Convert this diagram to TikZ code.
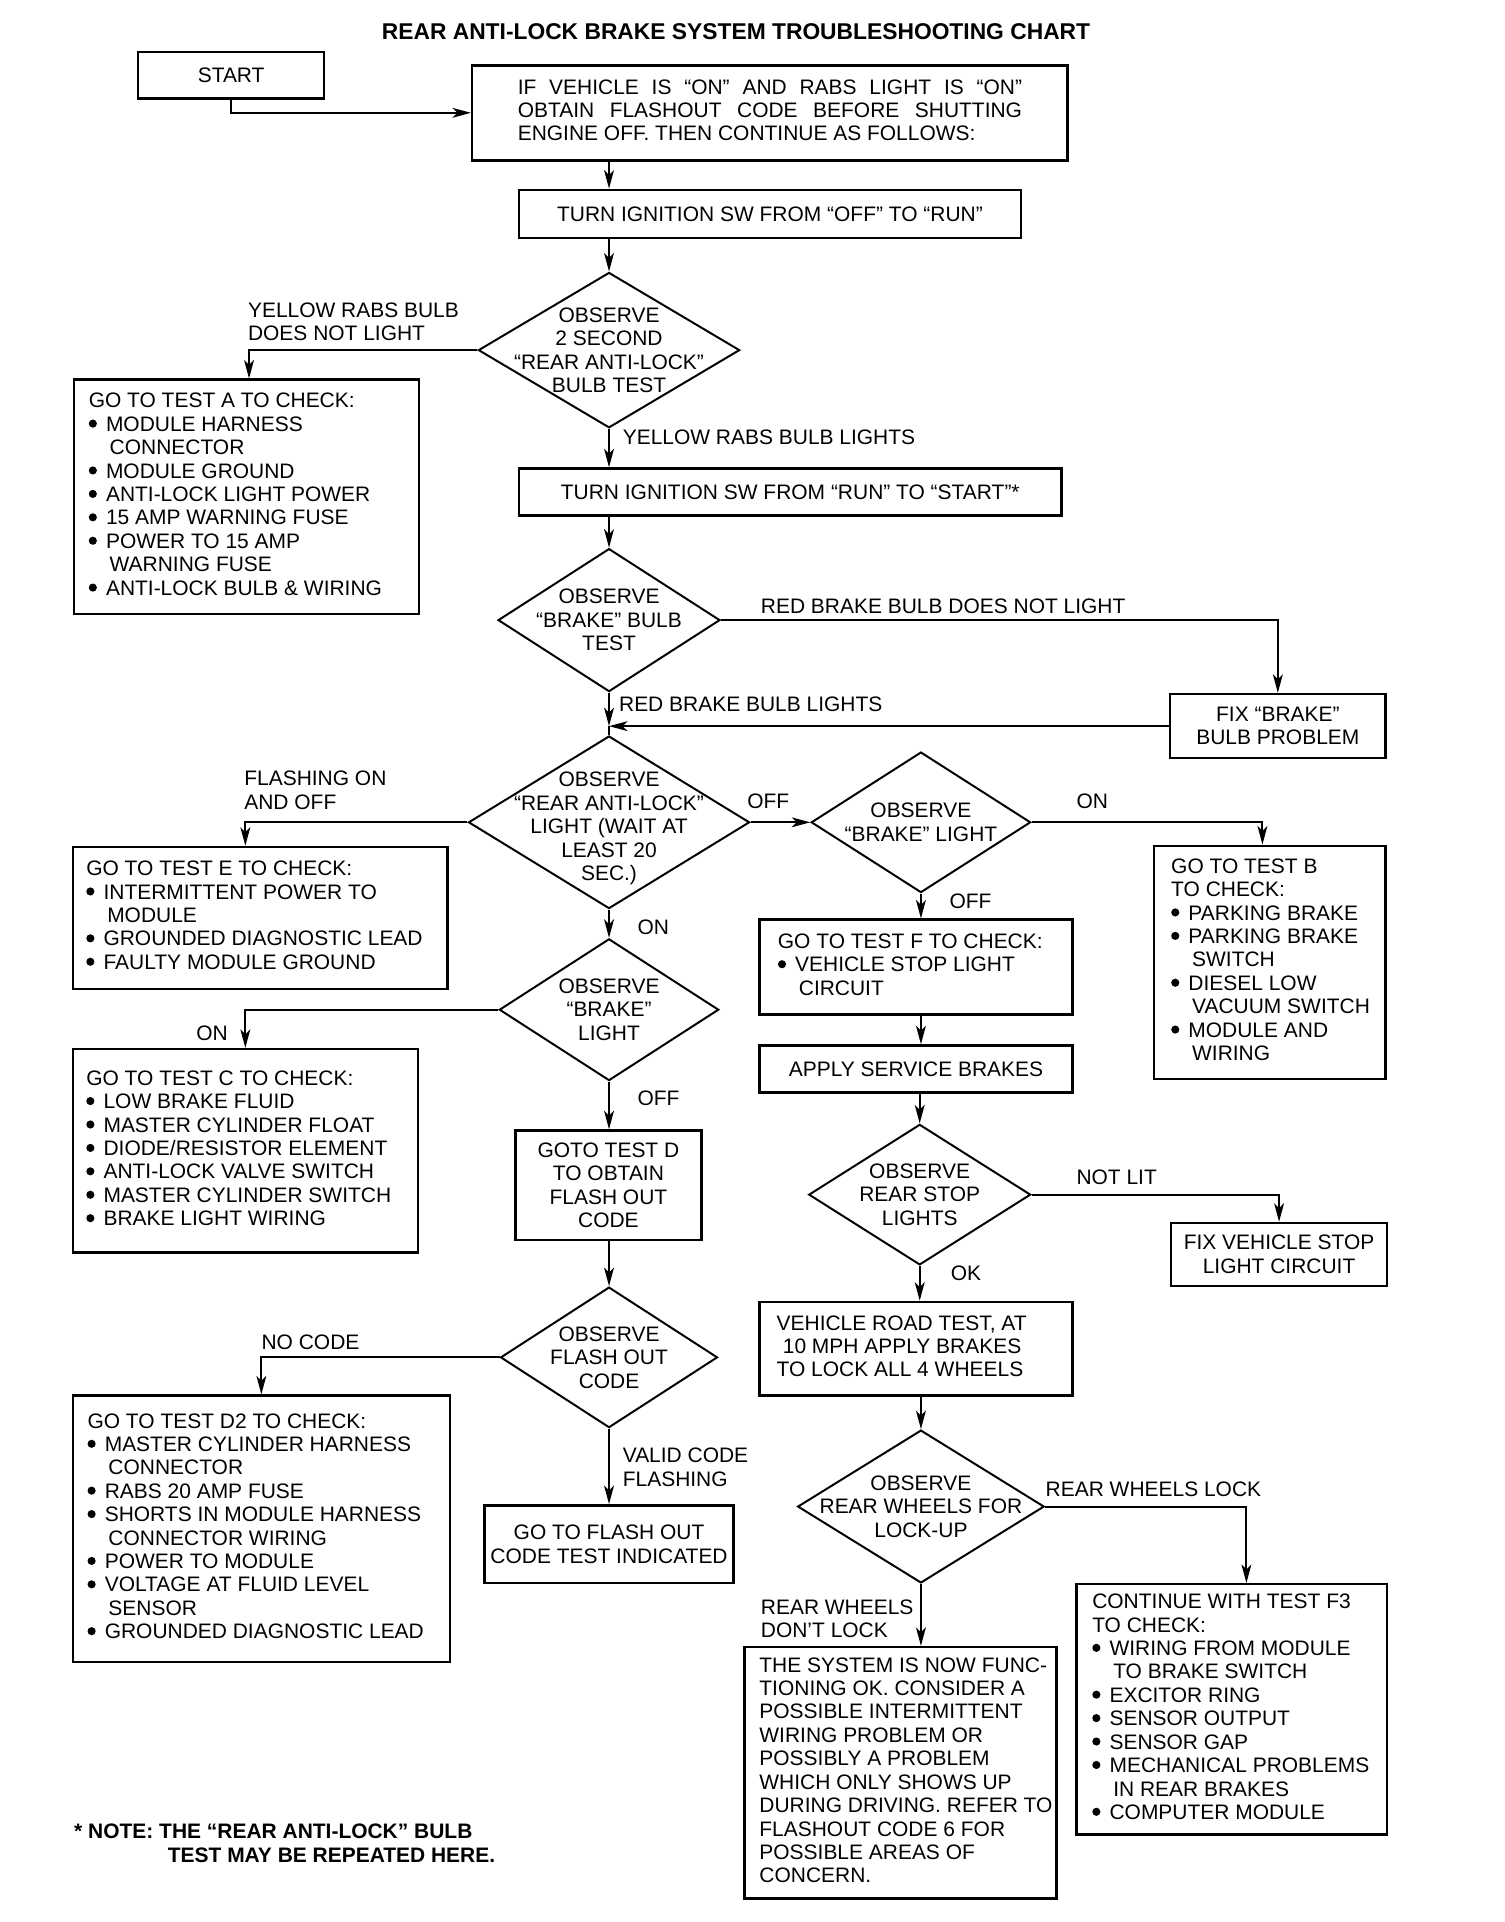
\documentclass[tikz,border=0pt]{standalone}
\usepackage{fontspec}
\setmainfont{Liberation Sans}
\usetikzlibrary{shapes.geometric,arrows.meta}

\newcommand{\bul}{\makebox[14pt][l]{\tikz[baseline=0pt,x=1pt,y=1pt]\fill (3.3,6.2) circle[radius=3.3];}}
\newcommand{\ind}{\hspace*{17pt}}
\newcommand{\lines}[2]{\makebox[#1][l]{\begin{tabular}{@{}l@{}}#2\end{tabular}}}

\begin{document}
\begin{tikzpicture}[x=1pt,y=-1pt,
  font=\fontsize{17}{19}\selectfont,
  box/.style={draw,line width=2pt,inner sep=0pt,align=center},
  lbox/.style={draw,line width=2pt,inner xsep=12pt,inner ysep=0pt},
  dia/.style={draw,diamond,line width=1.6pt,inner sep=0pt},
  lbl/.style={anchor=west,align=left,inner sep=0pt},
  arr/.style={line width=1.6pt,-{Stealth[length=15pt,width=8pt,inset=4pt]}},
  ln/.style={line width=1.6pt}]
\useasboundingbox[fill=white] (0,0) rectangle (1220,1559);

\node[font=\fontsize{18.5}{21}\selectfont\bfseries] (title) at (597,26) {REAR ANTI-LOCK BRAKE SYSTEM TROUBLESHOOTING CHART};

\node[box,minimum width=151pt,minimum height=38pt] (start) at (187.5,61) {START};
\node[lbox,inner xsep=37pt,minimum height=77pt] (cond) at (624.5,91.5) {\lines{409pt}{\makebox[409pt][s]{IF VEHICLE IS “ON” AND RABS LIGHT IS “ON”}\\\makebox[409pt][s]{OBTAIN FLASHOUT CODE BEFORE SHUTTING}\\ENGINE OFF. THEN CONTINUE AS FOLLOWS:}};
\node[box,minimum width=407pt,minimum height=39pt] (ign1) at (624.5,173.5) {TURN IGNITION SW FROM “OFF” TO “RUN”};
\node[dia,minimum width=212pt,minimum height=126pt,label={[align=center]center:OBSERVE\\2 SECOND\\“REAR ANTI-LOCK”\\BULB TEST}] (d1) at (494,284) {};
\node[lbox,minimum height=190pt] (testA) at (200,403) {\lines{256pt}{GO TO TEST A TO CHECK:\\\bul MODULE HARNESS\\\ind CONNECTOR\\\bul MODULE GROUND\\\bul ANTI-LOCK LIGHT POWER\\\bul 15 AMP WARNING FUSE\\\bul POWER TO 15 AMP\\\ind WARNING FUSE\\\bul ANTI-LOCK BULB \& WIRING}};
\node[box,minimum width=440pt,minimum height=38pt] (ign2) at (641,399) {TURN IGNITION SW FROM “RUN” TO “START”*};
\node[dia,minimum width=180pt,minimum height=116pt,label={[align=center]center:OBSERVE\\“BRAKE” BULB\\TEST}] (d2) at (494,503) {};
\node[box,minimum width=175pt,minimum height=52pt] (fixb) at (1036.5,589) {FIX “BRAKE”\\BULB PROBLEM};
\coordinate (j1) at (494,589);
\node[dia,minimum width=228pt,minimum height=140pt,label={[align=center,yshift=-5pt]center:OBSERVE\\“REAR ANTI-LOCK”\\LIGHT (WAIT AT\\LEAST 20\\SEC.)}] (d3) at (494,667) {};
\node[lbox,inner xsep=11pt,minimum height=115pt] (testE) at (211,744.5) {\lines{282pt}{GO TO TEST E TO CHECK:\\\bul INTERMITTENT POWER TO\\\ind MODULE\\\bul GROUNDED DIAGNOSTIC LEAD\\\bul FAULTY MODULE GROUND}};
\node[dia,minimum width=178pt,minimum height=114pt,label={[align=center]center:OBSERVE\\“BRAKE” LIGHT}] (d4) at (747,667) {};
\node[lbox,inner xsep=14pt,minimum height=189pt] (testB) at (1030,780.5) {\lines{160pt}{GO TO TEST B\\TO CHECK:\\\bul PARKING BRAKE\\\bul PARKING BRAKE\\\ind SWITCH\\\bul DIESEL LOW\\\ind VACUUM SWITCH\\\bul MODULE AND\\\ind WIRING}};
\node[lbox,inner xsep=15pt,minimum height=77pt] (testF) at (743,784.5) {\lines{224pt}{GO TO TEST F TO CHECK:\\\bul VEHICLE STOP LIGHT\\\ind CIRCUIT}};
\node[box,minimum width=254pt,minimum height=38pt] (apply) at (743,867) {APPLY SERVICE BRAKES};
\node[dia,minimum width=180pt,minimum height=114pt,label={[align=center]center:OBSERVE\\REAR STOP\\LIGHTS}] (d5) at (746,969) {};
\node[box,minimum width=175pt,minimum height=51pt] (fixs) at (1037.5,1017.5) {FIX VEHICLE STOP\\LIGHT CIRCUIT};
\node[lbox,inner xsep=14pt,minimum height=76pt] (road) at (743,1094) {\lines{226pt}{VEHICLE ROAD TEST, AT\\\hspace*{5pt}10 MPH APPLY BRAKES\\TO LOCK ALL 4 WHEELS}};
\node[dia,minimum width=200pt,minimum height=124pt,label={[align=center]center:OBSERVE\\REAR WHEELS FOR\\LOCK-UP}] (d8) at (747,1222) {};
\node[lbox,inner xsep=13pt,minimum height=203pt] (testF3) at (999,1386.5) {\lines{226pt}{CONTINUE WITH TEST F3\\TO CHECK:\\\bul WIRING FROM MODULE\\\ind TO BRAKE SWITCH\\\bul EXCITOR RING\\\bul SENSOR OUTPUT\\\bul SENSOR GAP\\\bul MECHANICAL PROBLEMS\\\ind IN REAR BRAKES\\\bul COMPUTER MODULE}};
\node[lbox,minimum height=204pt] (final) at (730.5,1438) {\lines{229pt}{THE SYSTEM IS NOW FUNC-\\TIONING OK. CONSIDER A\\POSSIBLE INTERMITTENT\\WIRING PROBLEM OR\\POSSIBLY A PROBLEM\\WHICH ONLY SHOWS UP\\DURING DRIVING. REFER TO\\FLASHOUT CODE 6 FOR\\POSSIBLE AREAS OF\\CONCERN.}};
\node[dia,minimum width=178pt,minimum height=115pt,label={[align=center]center:OBSERVE\\“BRAKE”\\LIGHT}] (d6) at (494,819) {};
\node[lbox,inner xsep=11pt,minimum height=165pt] (testC) at (199,933.5) {\lines{258pt}{GO TO TEST C TO CHECK:\\\bul LOW BRAKE FLUID\\\bul MASTER CYLINDER FLOAT\\\bul DIODE/RESISTOR ELEMENT\\\bul ANTI-LOCK VALVE SWITCH\\\bul MASTER CYLINDER SWITCH\\\bul BRAKE LIGHT WIRING}};
\node[box,minimum width=151pt,minimum height=89pt] (testD) at (493.5,961.5) {GOTO TEST D\\TO OBTAIN\\FLASH OUT\\CODE};
\node[dia,minimum width=176pt,minimum height=114pt,label={[align=center]center:OBSERVE\\FLASH OUT\\CODE}] (d7) at (494,1101) {};
\node[lbox,minimum height=216pt] (testD2) at (212,1240) {\lines{282pt}{GO TO TEST D2 TO CHECK:\\\bul MASTER CYLINDER HARNESS\\\ind CONNECTOR\\\bul RABS 20 AMP FUSE\\\bul SHORTS IN MODULE HARNESS\\\ind CONNECTOR WIRING\\\bul POWER TO MODULE\\\bul VOLTAGE AT FLUID LEVEL\\\ind SENSOR\\\bul GROUNDED DIAGNOSTIC LEAD}};
\node[box,minimum width=202pt,minimum height=63pt] (flash) at (494,1252.5) {GO TO FLASH OUT\\CODE TEST INDICATED};

\draw[arr] (start.south) |- (cond.west);
\draw[arr] (cond.south -| d1.north) -- (ign1.north -| d1.north);
\draw[arr] (ign1.south -| d1.north) -- (d1.north);
\draw[arr] (d1.west) -| ([xshift=2pt]testA.north);
\draw[arr] (d1.south) -- (ign2.north -| d1.south);
\draw[arr] (ign2.south -| d2.north) -- (d2.north);
\draw[arr] (d2.east) -| (fixb.north);
\draw[arr] (d2.south) -- (j1);
\draw[ln] (j1) -- (d3.north);
\draw[arr] (fixb.west) -- (j1);
\draw[arr] (d3.west) -| ([xshift=-12pt]testE.north);
\draw[arr] (d3.east) -- (d4.west);
\draw[arr] (d4.east) -| ([xshift=-6pt]testB.north);
\draw[arr] (d4.south) -- (testF.north -| d4.south);
\draw[arr] (testF.south -| d4.south) -- (apply.north -| d4.south);
\draw[arr] (apply.south -| d5.north) -- (d5.north);
\draw[arr] (d5.east) -| (fixs.north);
\draw[arr] (d5.south) -- (road.north -| d5.south);
\draw[arr] (road.south -| d8.north) -- (d8.north);
\draw[arr] (d8.east) -| ([xshift=12pt]testF3.north);
\draw[arr] (d8.south) -- (final.north -| d8.south);
\draw[arr] (d3.south) -- (d6.north);
\draw[arr] (d6.west) -| (testC.north);
\draw[arr] (d6.south) -- (testD.north -| d6.south);
\draw[arr] (testD.south -| d7.north) -- (d7.north);
\draw[arr] (d7.west) -| (testD2.north);
\draw[arr] (d7.south) -- (flash.north -| d7.south);

\node[lbl] (lNoLight) at (201,261) {YELLOW RABS BULB\\DOES NOT LIGHT};
\node[lbl] (lLights) at (505,355) {YELLOW RABS BULB LIGHTS};
\node[lbl] (lRedNo) at (617,492) {RED BRAKE BULB DOES NOT LIGHT};
\node[lbl] (lRed) at (502,571) {RED BRAKE BULB LIGHTS};
\node[lbl] (lFlash) at (198,641) {FLASHING ON\\AND OFF};
\node[lbl] (lOff1) at (606,650) {OFF};
\node[lbl] (lOn1) at (873,650) {ON};
\node[lbl] (lOff2) at (770,731) {OFF};
\node[lbl] (lOn2) at (517,752) {ON};
\node[lbl] (lOn3) at (159,838) {ON};
\node[lbl] (lOff3) at (517,891) {OFF};
\node[lbl] (lNotLit) at (873,955) {NOT LIT};
\node[lbl] (lOk) at (771,1033) {OK};
\node[lbl] (lNoCode) at (212,1089) {NO CODE};
\node[lbl] (lValid) at (505,1190) {VALID CODE\\FLASHING};
\node[lbl] (lLock) at (848,1208) {REAR WHEELS LOCK};
\node[lbl] (lNoLock) at (617,1313) {REAR WHEELS\\DON’T LOCK};
\node[lbl,font=\fontsize{17}{19}\selectfont\bfseries] (note) at (60,1495) {* NOTE: THE “REAR ANTI-LOCK” BULB\\\hspace*{76pt}TEST MAY BE REPEATED HERE.};
\end{tikzpicture}
\end{document}
